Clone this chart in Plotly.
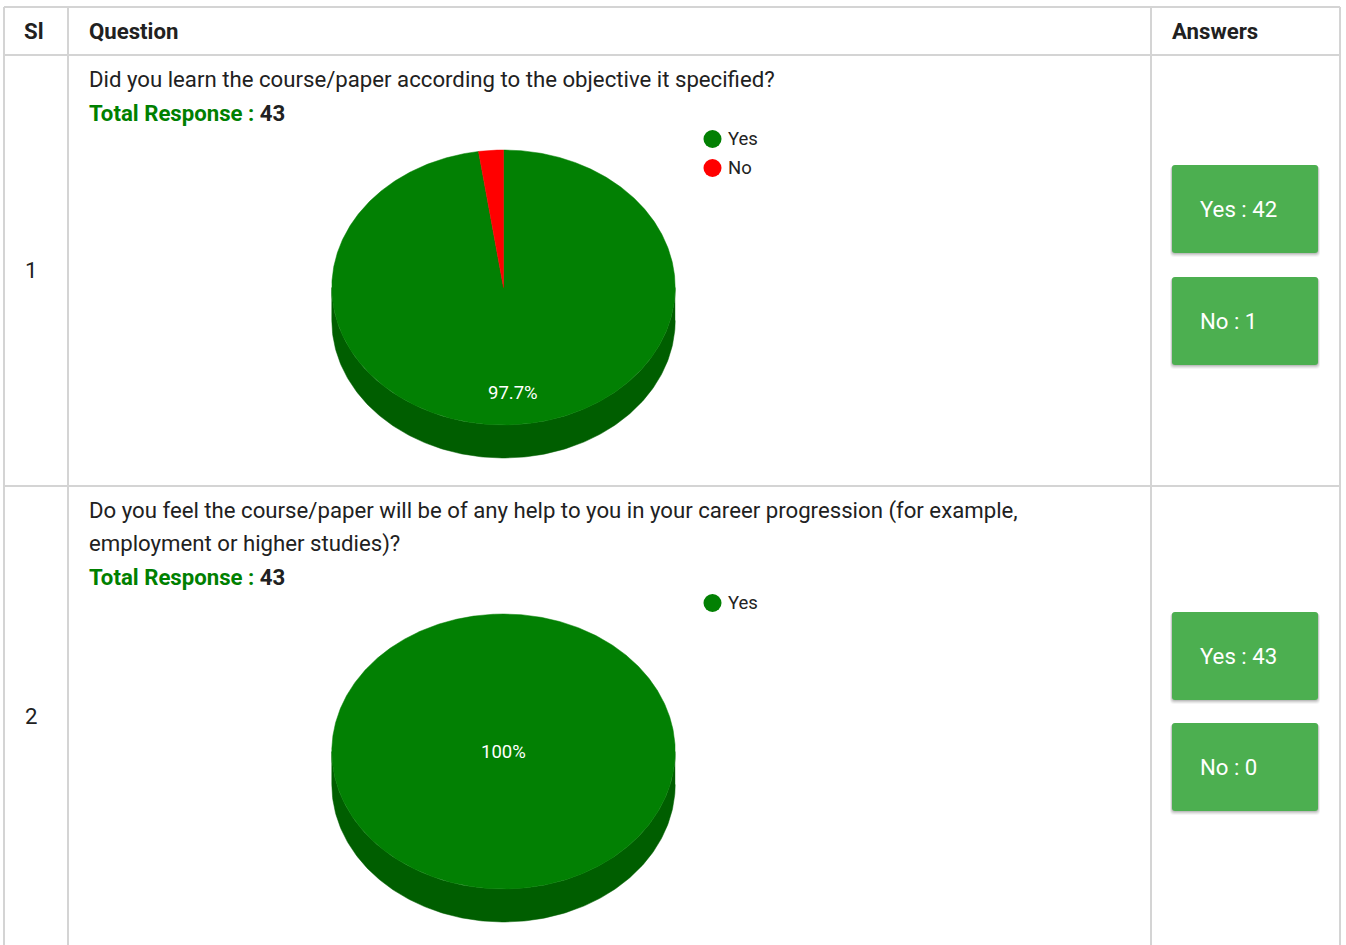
import numpy as np
import plotly.graph_objects as go

# ---------------- data ----------------
headers = ["Sl", "Question", "Answers"]
serials = ["1", "2"]
question_lines = [
    ["Did you learn the course/paper according to the objective it specified?"],
    ["Do you feel the course/paper will be of any help to you in your career progression (for example,",
     "employment or higher studies)?"],
]
categories = ["Yes", "No"]
yes_counts = [42, 43]
no_counts = [1, 0]
total_label = "Total Response : "

# ---------------- style / layout ----------------
W, H = 1346, 945
FONT = "Roboto"
TXT = "#212121"
GRID = "#d4d4d4"
TOP_COL = {"Yes": "#028003", "No": "#ff0000"}
SIDE_COL = {"Yes": "#005e00", "No": "#b00000"}
BOX_COL = "#4caf50"
FS = 22.2

col_x = [4, 68, 1151, 1340]
row_y = [7, 55, 486, 1000]
row_box_tops = [[165, 277], [612, 723]]
box_h = 88
box_x0, box_x1 = 1172, 1318
RX, RY, DEPTH = 171.7, 137.5, 33
PIE_CX = 503.5
LABEL_F = 0.77
TXT_PAD = 19

fig = go.Figure()
shapes, annotations = [], []


def add_text(x, y, s, size=FS, color=TXT, xanchor="left"):
    annotations.append(dict(x=x, y=y, xref="x", yref="y", text=s, showarrow=False,
                            xanchor=xanchor, yanchor="middle",
                            font=dict(family=FONT, size=size, color=color)))


def rounded_rect(x0, y0, x1, y1, r):
    return (f"M{x0+r},{y0} L{x1-r},{y0} Q{x1},{y0} {x1},{y0+r} L{x1},{y1-r} "
            f"Q{x1},{y1} {x1-r},{y1} L{x0+r},{y1} Q{x0},{y1} {x0},{y1-r} "
            f"L{x0},{y0+r} Q{x0},{y0} {x0+r},{y0} Z")


def ell(cx, cy, th, dy=0.0):
    t = np.radians(th)
    return cx + RX * np.sin(t), cy - RY * np.cos(t) + dy


# table grid
for x in col_x:
    shapes.append(dict(type="line", xref="x", yref="y", x0=x, x1=x, y0=row_y[0], y1=H + 5,
                       line=dict(color=GRID, width=2)))
for y in row_y[:3]:
    shapes.append(dict(type="line", xref="x", yref="y", x0=col_x[0], x1=col_x[-1], y0=y, y1=y,
                       line=dict(color=GRID, width=2)))

# headers
hy = (row_y[0] + row_y[1]) / 2
add_text((col_x[0] + col_x[1]) / 2 - 2, hy, f"<b>{headers[0]}</b>", xanchor="center")
add_text(col_x[1] + TXT_PAD, hy, f"<b>{headers[1]}</b>")
add_text(col_x[2] + TXT_PAD, hy, f"<b>{headers[2]}</b>")

counts = [dict(zip(categories, vals)) for vals in zip(yes_counts, no_counts)]

for r in range(len(serials)):
    top = row_y[r + 1]
    # serial
    sy = 270 if r == 0 else 716
    add_text((col_x[0] + col_x[1]) / 2 - 5, sy, serials[r], xanchor="center")
    # question lines
    qy = top + 24
    for line in question_lines[r]:
        add_text(col_x[1] + TXT_PAD, qy, line)
        qy += 33
    total = sum(counts[r].values())
    ty = qy + 1
    add_text(col_x[1] + TXT_PAD, ty,
             f"<b><span style='color:#008000'>{total_label}</span>{total}</b>")
    # legend
    ly = ty + 26
    shown = [c for c in categories if counts[r][c] > 0]
    fig.add_trace(go.Scatter(x=[712.5] * len(shown), y=[ly + 29 * i for i in range(len(shown))],
                             mode="markers", marker=dict(size=18, color=[TOP_COL[c] for c in shown]),
                             hoverinfo="skip"))
    for i, c in enumerate(shown):
        add_text(725.5, ly + 29 * i, c, size=18.5, color="#222222")

    # 3D pie
    cy = ly + 11 + RY
    vals = [counts[r][c] for c in categories]
    start = 0.0
    spans = []
    for c, v in zip(categories, vals):
        span = 360.0 * v / total
        spans.append((c, v, start, start + span))
        start += span
    # side walls
    for c, v, a0, a1 in spans:
        lo, hi = max(a0, 90), min(a1, 270)
        if v == 0 or hi <= lo:
            continue
        th = np.linspace(lo, hi, 200)
        xt, yt = ell(PIE_CX, cy, th)
        xb, yb = ell(PIE_CX, cy, th[::-1], DEPTH)
        fig.add_trace(go.Scatter(x=np.r_[xt, xb], y=np.r_[yt, yb], fill="toself", mode="lines",
                                 fillcolor=SIDE_COL[c], line=dict(color=SIDE_COL[c], width=0.5),
                                 hoverinfo="skip"))
    # top faces
    for c, v, a0, a1 in spans:
        if v == 0:
            continue
        th = np.linspace(a0, a1, max(int((a1 - a0) * 2), 10))
        xs, ys = ell(PIE_CX, cy, th)
        if a1 - a0 < 359.9:
            xs = np.r_[PIE_CX, xs, PIE_CX]
            ys = np.r_[cy, ys, cy]
        fig.add_trace(go.Scatter(x=xs, y=ys, fill="toself", mode="lines",
                                 fillcolor=TOP_COL[c], line=dict(color=TOP_COL[c], width=0.5),
                                 hoverinfo="skip"))
    # percent labels
    for c, v, a0, a1 in spans:
        frac = v / total
        if frac < 0.05:
            continue
        pct = f"{frac * 100:.1f}".rstrip("0").rstrip(".") + "%"
        if frac >= 0.999:
            lx, lyy = PIE_CX, cy
        else:
            mid = np.radians((a0 + a1) / 2)
            lx = PIE_CX + RX * LABEL_F * np.sin(mid)
            lyy = cy - RY * LABEL_F * np.cos(mid)
        add_text(lx, lyy, pct, size=18.5, color="#ffffff", xanchor="center")

    # answer boxes
    for i, c in enumerate(categories):
        y0 = row_box_tops[r][i]
        y1 = y0 + box_h
        for off, alpha in [(4, 0.04), (3, 0.06), (2, 0.08), (1, 0.1)]:
            shapes.append(dict(type="path", xref="x", yref="y",
                               path=rounded_rect(box_x0 - off * 0.5, y0 + off * 0.3,
                                                 box_x1 + off * 0.5, y1 + off, 4),
                               fillcolor=f"rgba(0,0,0,{alpha})", line=dict(width=0)))
        shapes.append(dict(type="path", xref="x", yref="y", path=rounded_rect(box_x0, y0, box_x1, y1, 3),
                           fillcolor=BOX_COL, line=dict(width=0)))
        add_text(box_x0 + 26, (y0 + y1) / 2, f"{c} : {counts[r][c]}", size=FS, color="#ffffff")

fig.update_layout(width=W, height=H, margin=dict(l=0, r=0, t=0, b=0),
                  paper_bgcolor="white", plot_bgcolor="white", showlegend=False,
                  shapes=shapes, annotations=annotations)
fig.update_xaxes(range=[0, W], visible=False, fixedrange=True)
fig.update_yaxes(range=[H, 0], visible=False, fixedrange=True)
fig.write_html("out.html", config={"displayModeBar": False},
               post_script="document.body.style.margin='0';document.body.style.overflow='hidden';")
